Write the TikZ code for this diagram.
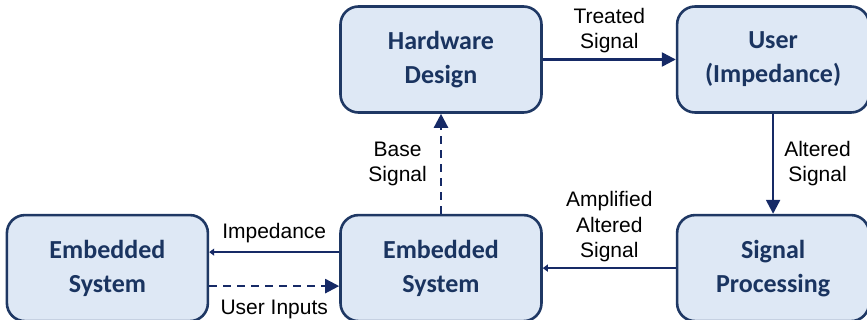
\documentclass[tikz,border=0pt]{standalone}
\usepackage{fontspec}
\setmainfont{Liberation Sans}
\newfontfamily\boxfont{Carlito}
\usetikzlibrary{arrows.meta,positioning}
\definecolor{boxline}{RGB}{31,56,100}
\definecolor{boxfill}{RGB}{222,232,245}
\definecolor{boxtext}{RGB}{26,52,96}
\definecolor{linkblue}{RGB}{22,42,102}

\begin{document}
\begin{tikzpicture}[
  x=1pt, y=-1pt,
  font=\fontsize{21}{25.5}\selectfont,
  blk/.style={draw=boxline, line width=2.6pt, rounded corners=18pt, fill=boxfill,
    minimum width=201pt, minimum height=106pt, align=center,
    text=boxtext, font=\boxfont\bfseries\fontsize{26}{34}\selectfont},
  narrow/.style={minimum width=192pt},
  flow/.style={-{Triangle[length=14pt,width=14pt]}, line width=2.4pt, draw=linkblue},
  sflow/.style={-{Triangle[length=5pt,width=7pt]}, line width=2.2pt, draw=linkblue},
  dflow/.style={flow, dash pattern=on 8pt off 6pt},
  note/.style={align=center, inner sep=1pt}
]
\useasboundingbox (0,0) rectangle (867,320);

\node[blk] (hw) at (441,59.5) {Hardware\\Design};
\node[blk, narrow, right=133pt of hw] (user) {User\\(Impedance)};
\node[blk, below=100pt of hw] (mid) {Embedded\\System};
\node[blk, left=130pt of mid] (emb) {Embedded\\System};
\node[blk, narrow, below=100pt of user] (sigp) {Signal\\Processing};

\draw[flow] (hw) -- node[note, above=4pt] {Treated\\Signal} (user);
\draw[flow] (user) -- node[note, right=9pt] {Altered\\Signal} (sigp);
\draw[sflow] (sigp) -- node[note, above=4pt] {Amplified\\Altered\\Signal} (mid);
\draw[dflow] (mid) -- node[note, left=12pt] {Base\\Signal} (hw);

% two links between the embedded systems
\draw[sflow] ([yshift=16pt]mid.west) -- node[note, above=7pt] {Impedance} ([yshift=16pt]emb.east);
\draw[dflow] ([yshift=-18pt]emb.east) -- node[note, below=12pt] {User Inputs} ([yshift=-18pt]mid.west);
\end{tikzpicture}
\end{document}
